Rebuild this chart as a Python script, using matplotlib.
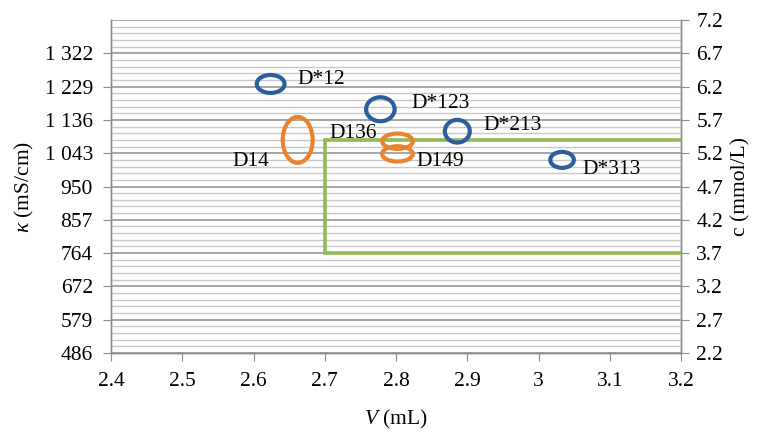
import matplotlib.pyplot as plt
from matplotlib.patches import Ellipse
from matplotlib.ticker import MultipleLocator

plt.rcParams['font.family'] = ['Liberation Serif', 'DejaVu Serif']
plt.rcParams['mathtext.fontset'] = 'custom'
plt.rcParams['mathtext.rm'] = 'Liberation Serif'
plt.rcParams['mathtext.it'] = 'Liberation Serif:italic'

# samples: volume V (mL), concentration c (mmol/L), ellipse spread in V and c
names = ['D*12', 'D*123', 'D*213', 'D*313', 'D14', 'D136', 'D149']
vol = [2.624, 2.778, 2.886, 3.033, 2.662, 2.802, 2.802]
conc = [6.24, 5.86, 5.53, 5.10, 5.40, 5.38, 5.19]
spread_v = [0.039, 0.040, 0.035, 0.033, 0.042, 0.043, 0.043]
spread_c = [0.27, 0.36, 0.34, 0.24, 0.69, 0.23, 0.23]
groups = ['D*', 'D*', 'D*', 'D*', 'D', 'D', 'D']

# label anchor for each sample
label_v = [2.661, 2.822, 2.922, 3.062, 2.622, 2.707, 2.829]
label_c = [6.30, 5.95, 5.62, 4.95, 5.07, 5.50, 5.07]
label_ha = ['left', 'left', 'left', 'left', 'right', 'left', 'left']

# target window
win_v = [2.7, 3.2]
win_c = [3.7, 5.4]

kappa_ticks = [486, 579, 672, 764, 857, 950, 1043, 1136, 1229, 1322]
kappa_lim = [486, 1415]
c_ticks = [2.2, 2.7, 3.2, 3.7, 4.2, 4.7, 5.2, 5.7, 6.2, 6.7, 7.2]
v_ticks = [2.4, 2.5, 2.6, 2.7, 2.8, 2.9, 3.0, 3.1, 3.2]
v_labels = ['2.4', '2.5', '2.6', '2.7', '2.8', '2.9', '3', '3.1', '3.2']

colors = {'D*': '#2C5D9C', 'D': '#EA832E'}
green = '#92B956'
axis_gray = '#8C8C8C'
fs = 15.5

fig = plt.figure(figsize=(7.67, 4.34), dpi=100)
ax = fig.add_axes([0.1447, 0.1866, 0.7433, 0.7673])
ax2 = ax.twinx()

ax.set_xlim(v_ticks[0], v_ticks[-1])
ax.set_ylim(*kappa_lim)
ax2.set_ylim(c_ticks[0], c_ticks[-1])

ax.set_xticks(v_ticks)
ax.set_xticklabels(v_labels)
ax.set_yticks(kappa_ticks)
ax.set_yticklabels([f'{k:,}'.replace(',', ' ') for k in kappa_ticks])
ax2.set_yticks(c_ticks)
ax2.set_yticklabels([f'{c:.1f}' for c in c_ticks])
ax2.yaxis.set_minor_locator(MultipleLocator(0.1))

# horizontal grid on the c axis (lines up with both scales)
ax2.set_axisbelow(True)
ax2.grid(axis='y', which='major', color='#9E9E9E', lw=1.3)
ax2.grid(axis='y', which='minor', color='#C8C8C8', lw=1.0)
ax2.tick_params(axis='y', which='minor', length=0)

for a in (ax, ax2):
    for s in a.spines.values():
        s.set_color(axis_gray)
        s.set_linewidth(1.0)
    a.spines['top'].set_visible(False)

ax.tick_params(axis='x', direction='out', length=6, color=axis_gray, labelsize=fs, pad=8)
ax.tick_params(axis='y', direction='out', length=6, color=axis_gray, labelsize=fs, pad=7)
ax2.tick_params(axis='y', which='major', direction='out', length=6, color=axis_gray, labelsize=fs, pad=5)

# target window lines
ax2.plot([win_v[1], win_v[0], win_v[0], win_v[1]],
         [win_c[1], win_c[1], win_c[0], win_c[0]],
         color=green, lw=2.6, solid_joinstyle='miter', zorder=3)

for n, v, c, wv, wc, g, lv, lc, ha in zip(names, vol, conc, spread_v, spread_c,
                                          groups, label_v, label_c, label_ha):
    ax2.add_patch(Ellipse((v, c), wv, wc, fill=False, edgecolor=colors[g],
                          lw=3.0, zorder=4))
    ax2.text(lv, lc, n, ha=ha, va='center', fontsize=fs, zorder=5)

ax.set_xlabel('$V$ (mL)', fontsize=fs, labelpad=12)
ax.set_ylabel(r'$\kappa$ (mS/cm)', fontsize=fs, labelpad=6)
ax2.set_ylabel('c (mmol/L)', fontsize=fs, labelpad=6, rotation=90)

fig.savefig('out.png', dpi=100)
